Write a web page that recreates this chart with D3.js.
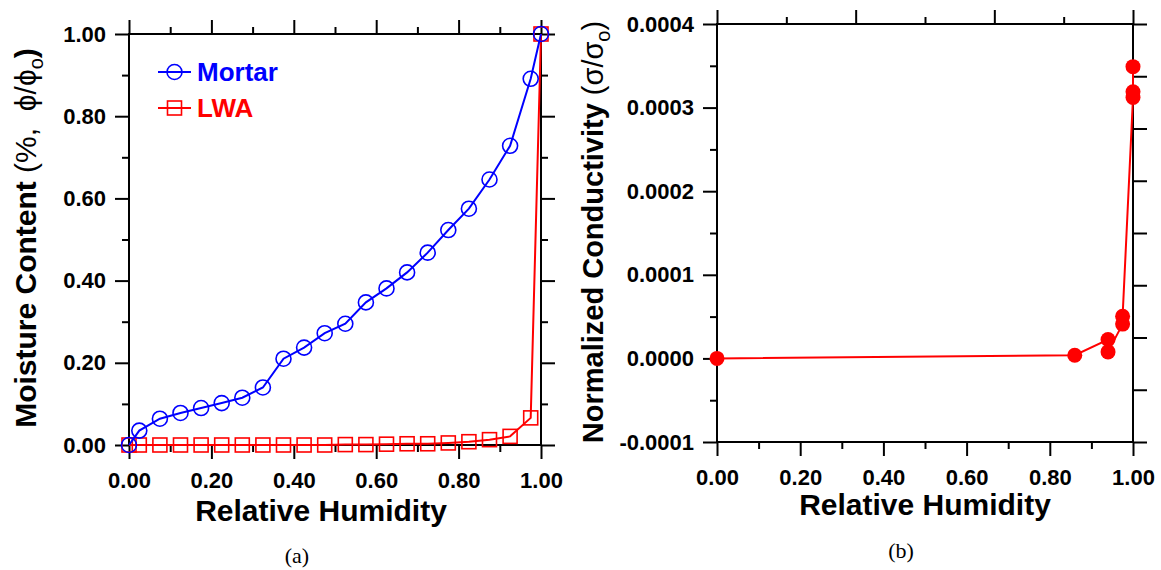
<!DOCTYPE html>
<html>
<head>
<meta charset="utf-8">
<script src="https://cdn.jsdelivr.net/npm/d3@7"></script>
<style>
  body { margin: 0; background: #fff; }
  .tick text { font-family: "Liberation Sans", Arial, sans-serif; font-weight: bold; font-size: 22px; fill: #000; }
</style>
</head>
<body>
<div id="chart"></div>
<script>
// ---- panel (a): moisture content vs relative humidity ----
const rhA = [0, 0.025, 0.075, 0.125, 0.175, 0.225, 0.275, 0.325, 0.375, 0.425, 0.475,
             0.525, 0.575, 0.625, 0.675, 0.725, 0.775, 0.825, 0.875, 0.925, 0.975, 1.0];
const mortarContent = [0, 0.035, 0.064, 0.078, 0.090, 0.102, 0.115, 0.140, 0.210, 0.237, 0.272,
                       0.295, 0.347, 0.381, 0.420, 0.468, 0.523, 0.575, 0.646, 0.728, 0.891, 1.0];
const lwaContent = [0, 0, 0, 0, 0, 0, 0, 0, 0, 0, 0,
                    0.001, 0.001, 0.002, 0.003, 0.003, 0.005, 0.008, 0.013, 0.021, 0.066, 1.0];

// ---- panel (b): normalized conductivity ----
const rhB = [0, 0.86, 0.94, 0.94, 0.975, 0.975, 1.0, 1.0, 1.0];
const conductivity = [0, 0.0000038, 0.0000226, 0.0000078, 0.000041, 0.0000505, 0.000312, 0.000319, 0.000349];

// ticks
const xMajor = [0, 0.2, 0.4, 0.6, 0.8, 1.0];
const xMinor = [0.1, 0.3, 0.5, 0.7, 0.9];
const yMajorA = [0, 0.2, 0.4, 0.6, 0.8, 1.0];
const yMinorA = [0.1, 0.3, 0.5, 0.7, 0.9];
const yMajorB = [-0.0001, 0, 0.0001, 0.0002, 0.0003, 0.0004];
const yMinorB = [-0.00005, 0.00005, 0.00015, 0.00025, 0.00035];
// unlabeled secondary axes on panel (b)
const topMajorB = [0, 2, 4, 6];
const topMinorB = [1, 3, 5];
const rightTicksB = [0, 1, 2, 3, 4, 5, 6, 7, 8];

const blue = "#0000ff", red = "#ff0000";
const font = "'Liberation Sans', Arial, sans-serif";

const svg = d3.select("#chart").append("svg")
    .attr("width", 1161)
    .attr("height", 570)
    .style("background", "#fff");

// small helper: one set of ticks (major or minor), no domain line
function ticks(axisFn, scale, values, size, transform, fmt, pad) {
    const axis = axisFn(scale)
        .tickValues(values)
        .tickSize(size)
        .tickSizeOuter(0)
        .tickPadding(pad || 9)
        .tickFormat(fmt || "");
    const g = svg.append("g").attr("transform", transform).call(axis);
    g.select(".domain").remove();
    g.selectAll(".tick line").attr("stroke", "#000").attr("stroke-width", 2);
    return g;
}

function frame(x, y) {
    svg.append("rect")
        .attr("x", x.range()[0])
        .attr("y", y.range()[1])
        .attr("width", x.range()[1] - x.range()[0])
        .attr("height", y.range()[0] - y.range()[1])
        .attr("fill", "none")
        .attr("stroke", "#000")
        .attr("stroke-width", 2);
}

// ================= panel (a) =================
const xA = d3.scaleLinear().domain([0, 1]).range([129, 541]);
const yA = d3.scaleLinear().domain([0, 1]).range([445, 34]);
const f2 = d3.format(".2f");

ticks(d3.axisBottom, xA, xMajor, 14, `translate(0,${yA(0)})`, f2, 13);
ticks(d3.axisBottom, xA, xMinor, 7, `translate(0,${yA(0)})`);
ticks(d3.axisTop, xA, xMajor, 14, `translate(0,${yA(1)})`);
ticks(d3.axisTop, xA, xMinor, 7, `translate(0,${yA(1)})`);
ticks(d3.axisLeft, yA, yMajorA, 14, `translate(${xA(0)},0)`, f2, 9);
ticks(d3.axisLeft, yA, yMinorA, 7, `translate(${xA(0)},0)`);
ticks(d3.axisRight, yA, yMajorA, 14, `translate(${xA(1)},0)`);
ticks(d3.axisRight, yA, yMinorA, 7, `translate(${xA(1)},0)`);
frame(xA, yA);

const lineA = d3.line().x(d => xA(d[0])).y(d => yA(d[1]));

// LWA series (squares)
const lwaPts = rhA.map((r, i) => [r, lwaContent[i]]);
svg.append("path").datum(lwaPts)
    .attr("d", lineA).attr("fill", "none").attr("stroke", red).attr("stroke-width", 2);
svg.selectAll(".sq").data(lwaPts).enter().append("rect")
    .attr("class", "sq")
    .attr("x", d => xA(d[0]) - 7).attr("y", d => yA(d[1]) - 7)
    .attr("width", 14).attr("height", 14)
    .attr("fill", "none").attr("stroke", red).attr("stroke-width", 1.6);

// Mortar series (circles)
const mortarPts = rhA.map((r, i) => [r, mortarContent[i]]);
svg.append("path").datum(mortarPts)
    .attr("d", lineA).attr("fill", "none").attr("stroke", blue).attr("stroke-width", 2);
svg.selectAll(".circ").data(mortarPts).enter().append("circle")
    .attr("class", "circ")
    .attr("cx", d => xA(d[0])).attr("cy", d => yA(d[1]))
    .attr("r", 7.5)
    .attr("fill", "none").attr("stroke", blue).attr("stroke-width", 1.6);

// legend
const legend = svg.append("g");
[["Mortar", blue, 72], ["LWA", red, 108]].forEach(([name, col, ly], i) => {
    legend.append("line").attr("x1", 158).attr("x2", 191).attr("y1", ly).attr("y2", ly)
        .attr("stroke", col).attr("stroke-width", 2);
    if (i === 0) {
        legend.append("circle").attr("cx", 174.5).attr("cy", ly).attr("r", 7.5)
            .attr("fill", "none").attr("stroke", col).attr("stroke-width", 1.6);
    } else {
        legend.append("rect").attr("x", 167.5).attr("y", ly - 7).attr("width", 14).attr("height", 14)
            .attr("fill", "none").attr("stroke", col).attr("stroke-width", 1.6);
    }
    legend.append("text").attr("x", 197).attr("y", ly + 9)
        .style("font-family", font).style("font-weight", "bold").style("font-size", "26px")
        .attr("fill", col).text(name);
});

// axis titles
svg.append("text")
    .attr("x", 321).attr("y", 521)
    .attr("text-anchor", "middle")
    .style("font-family", font).style("font-weight", "bold").style("font-size", "30px")
    .text("Relative Humidity");

const yTitleA = svg.append("text")
    .attr("transform", "translate(36,238) rotate(-90)")
    .attr("text-anchor", "middle")
    .style("font-family", font).style("font-size", "30px").style("white-space", "pre");
yTitleA.append("tspan").style("font-weight", "bold").text("Moisture Content ");
yTitleA.append("tspan").text("(%,  \u03d5/\u03d5");
yTitleA.append("tspan").attr("dy", 7).style("font-size", "20px").text("o");
yTitleA.append("tspan").attr("dy", -7).style("font-weight", "bold").text(")");

svg.append("text")
    .attr("x", 297).attr("y", 563)
    .attr("text-anchor", "middle")
    .style("font-family", "'Liberation Serif', 'Times New Roman', serif").style("font-size", "22px")
    .text("(a)");

// ================= panel (b) =================
const xB = d3.scaleLinear().domain([0, 1]).range([717, 1133]);
const yB = d3.scaleLinear().domain([-0.0001, 0.0004]).range([442, 24]);
const topB = d3.scaleLinear().domain([0, 6]).range(xB.range());
const rightB = d3.scaleLinear().domain([0, 8]).range(yB.range());

ticks(d3.axisBottom, xB, xMajor, 14, `translate(0,${yB.range()[0]})`, f2, 13);
ticks(d3.axisBottom, xB, xMinor, 7, `translate(0,${yB.range()[0]})`);
ticks(d3.axisTop, topB, topMajorB, 14, `translate(0,${yB.range()[1]})`);
ticks(d3.axisTop, topB, topMinorB, 7, `translate(0,${yB.range()[1]})`);
ticks(d3.axisLeft, yB, yMajorB, 14, `translate(${xB(0)},0)`, d => d.toFixed(4), 9);
ticks(d3.axisLeft, yB, yMinorB, 7, `translate(${xB(0)},0)`);
ticks(d3.axisRight, rightB, rightTicksB, 14, `translate(${xB(1)},0)`);
frame(xB, yB);

const condPts = rhB.map((r, i) => [r, conductivity[i]]);
svg.append("path").datum(condPts)
    .attr("d", d3.line().x(d => xB(d[0])).y(d => yB(d[1])))
    .attr("fill", "none").attr("stroke", red).attr("stroke-width", 2);
svg.selectAll(".dot").data(condPts).enter().append("circle")
    .attr("class", "dot")
    .attr("cx", d => xB(d[0])).attr("cy", d => yB(d[1]))
    .attr("r", 7.5)
    .attr("fill", red);

svg.append("text")
    .attr("x", 925).attr("y", 515)
    .attr("text-anchor", "middle")
    .style("font-family", font).style("font-weight", "bold").style("font-size", "30px")
    .text("Relative Humidity");

const yTitleB = svg.append("text")
    .attr("transform", "translate(603,232) rotate(-90)")
    .attr("text-anchor", "middle")
    .style("font-family", font).style("font-size", "29px").style("white-space", "pre");
yTitleB.append("tspan").style("font-weight", "bold").text("Normalized Conductivity ");
yTitleB.append("tspan").text("(\u03c3/\u03c3");
yTitleB.append("tspan").attr("dy", 7).style("font-size", "20px").text("o");
yTitleB.append("tspan").attr("dy", -7).text(")");

svg.append("text")
    .attr("x", 901).attr("y", 558)
    .attr("text-anchor", "middle")
    .style("font-family", "'Liberation Serif', 'Times New Roman', serif").style("font-size", "22px")
    .text("(b)");
</script>
</body>
</html>
